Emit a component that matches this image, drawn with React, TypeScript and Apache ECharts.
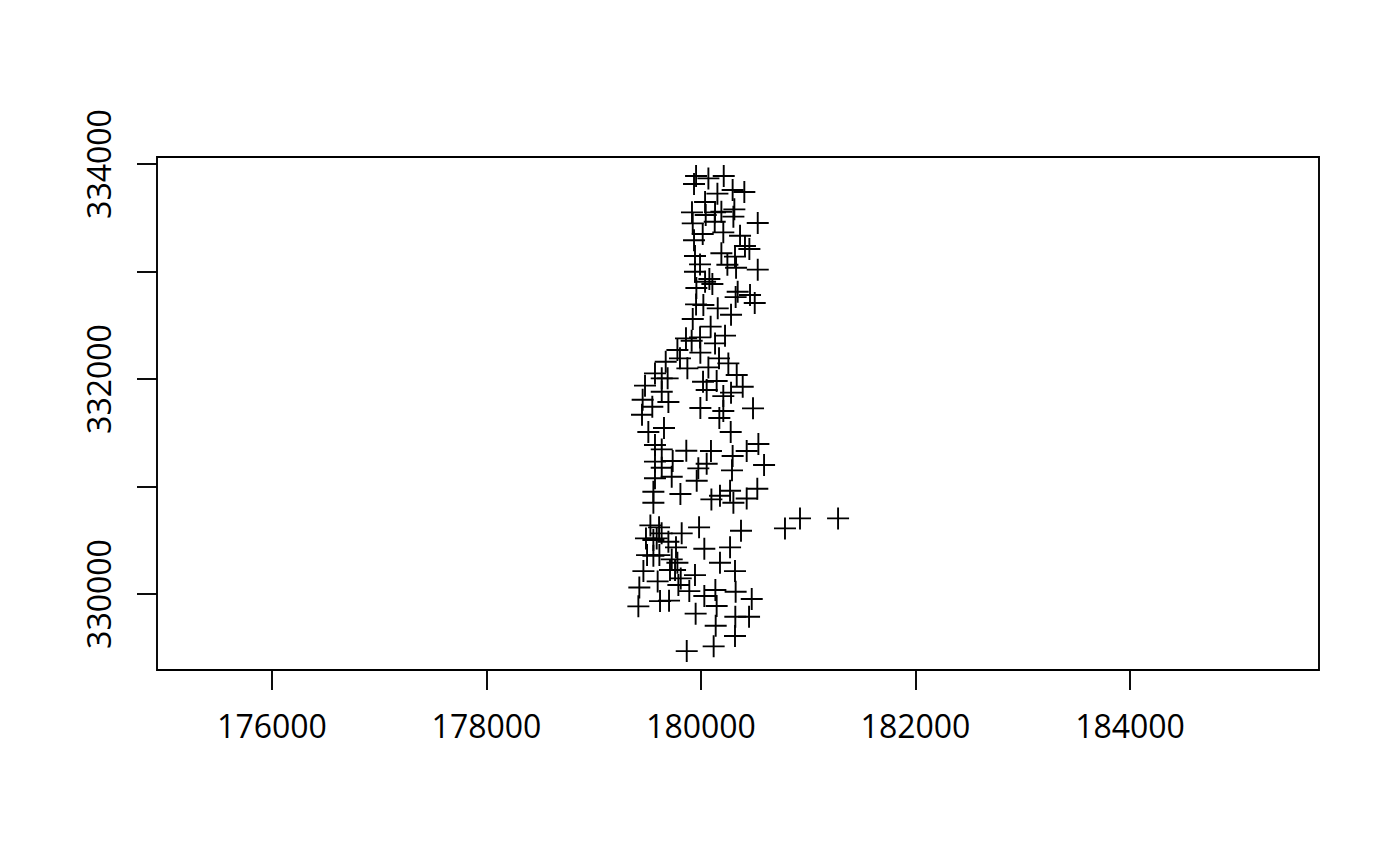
import React, { useEffect, useRef } from "react";
import * as echarts from "echarts";

const xExtent = [174928, 185762];
const yExtent = [329293, 334065];
const xTicks = [176000, 178000, 180000, 182000, 184000];
const yTicks = [330000, 331000, 332000, 333000, 334000];
const yLabels = [330000, 332000, 334000];

const xs = [
  179954, 179935, 180069, 180212, 180295, 180404, 180153, 180038, 179916, 180311, 180190, 180302, 180131, 180044, 179923, 180529, 180128, 180016, 180208, 180364, 179935, 180410, 180451, 180190, 180317, 180246, 180327, 180529, 179944, 179991, 179944, 180078, 180038, 180106, 179957, 180342, 180457, 180323, 180501, 179954, 180022, 180156, 179923, 180280, 180090,
  180224, 179860, 179913, 180131, 179994, 179804, 180168, 180255, 179873, 180069, 180333, 179571, 179634, 179689, 179478, 180019, 180146, 180389, 180053, 180280, 180208, 179634, 179456, 179696, 179546, 179994, 180485, 180208, 179450, 180171, 179655, 179509, 180277, 179571, 179634, 180535, 179863, 180093, 180426, 180295, 179736, 179571, 180588, 180053, 179975, 179634, 180289, 179727, 179571, 179960, 179556, 179808, 180271, 180525,
  180097, 180177, 180302, 180426, 179556, 180923, 180783, 181278, 179982, 180373, 179820, 179528, 179609, 179487, 179556, 179633, 179587, 180031, 180271, 179767, 179696, 179497, 179556, 179612, 180177, 180317, 179727, 179780, 179711, 179463, 179758, 179944, 179596, 179811, 179789, 179425, 179891, 180134, 180323, 180473, 180031, 180146, 179618, 179702, 179416, 179950, 180448, 180320, 180137, 180317, 180118, 179867,
  179671, 179780, 179991,
];
const ys = [
  333888, 333814, 333866, 333888, 333758, 333739, 333724, 333646, 333550, 333578, 333556, 333510, 333550, 333525, 333448, 333451, 333463, 333349, 333364, 333333, 333290, 333237, 333209, 333169, 333138, 333063, 333035, 333017, 333144, 333066, 332998, 332930, 332905, 332883, 332846, 332812, 332781, 332762, 332707, 332694, 332688, 332657, 332558, 332598, 332487,
  332403, 332378, 332356, 332331, 332245, 332192, 332192, 332145, 332099, 332108, 332037, 332052, 332006, 332006, 331938, 331975, 331981, 331928, 331897, 331873, 331841, 331882, 331807, 331786, 331742, 331730, 331727, 331702, 331668, 331637, 331544, 331507, 331507, 331386, 331345, 331395, 331333, 331330, 331330, 331283, 331237, 331231, 331200, 331212, 331169, 331175, 331150, 331091, 331076, 331054, 330951, 330930, 330961, 330979,
  330880, 330914, 330849, 330889, 330849, 330703, 330610, 330703, 330620, 330589, 330564, 330638, 330620, 330517, 330502, 330564, 330517, 330421, 330434, 330434, 330486, 330362, 330356, 330362, 330291, 330213, 330322, 330291, 330223, 330213, 330223, 330176, 330117, 330145, 330083, 330061, 330027, 330037, 330021, 329953, 329981, 329888, 329934, 329938, 329885, 329817, 329789, 329789, 329705, 329609, 329513, 329469,
  332161, 332269, 332387,
];

const FONT = "Open Sans";

export default function App() {
  const ref = useRef<HTMLDivElement>(null);
  useEffect(() => {
    document.body.style.margin = "0";
    const chart = echarts.init(ref.current!, null, { renderer: "svg" });
    const tickStyle = { show: true, length: 20, lineStyle: { color: "#000", width: 1.9 } };
    chart.setOption({
      animation: false,
      backgroundColor: "#fff",
      grid: { left: 157, right: 81, top: 157, bottom: 196, show: true, borderColor: "#000", borderWidth: 1.9, backgroundColor: "transparent" },
      xAxis: {
        type: "value", min: xExtent[0], max: xExtent[1], splitLine: { show: false }, axisLine: { show: false },
        axisTick: { ...tickStyle, customValues: xTicks },
        axisLabel: { customValues: xTicks, margin: 39, color: "#000", fontFamily: FONT, fontSize: 32, formatter: (v: number) => String(v) },
      },
      yAxis: {
        type: "value", min: yExtent[0], max: yExtent[1], splitLine: { show: false }, axisLine: { show: false },
        axisTick: { ...tickStyle, customValues: yTicks },
        axisLabel: { customValues: yLabels, margin: 43, rotate: 90, color: "#000", fontFamily: FONT, fontSize: 32, formatter: (v: number) => String(v) },
      },
      series: [{
        type: "scatter",
        data: xs.map((x, i) => [x, ys[i]]),
        symbol: "path://M11 0L11 22M0 11L22 11",
        symbolSize: 22,
        itemStyle: { color: "none", borderColor: "#000", borderWidth: 1.9, opacity: 1 },
        emphasis: { disabled: true },
        silent: true,
      }],
    });
    return () => chart.dispose();
  }, []);
  return <div ref={ref} style={{ width: 1400, height: 866 }} />;
}
